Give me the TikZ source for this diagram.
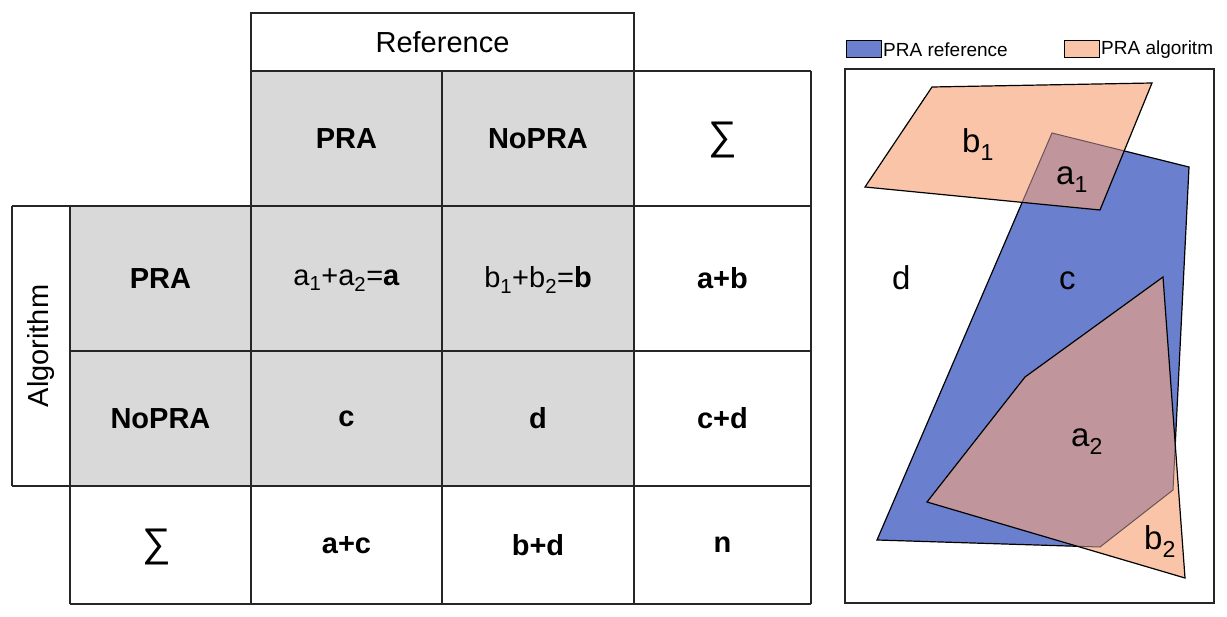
\documentclass[tikz,border=0pt]{standalone}
\usepackage{fontspec}
\setmainfont{Liberation Sans}
\usepackage{xcolor}
\usepackage{tikz}
\usetikzlibrary{calc}
\definecolor{cellgray}{HTML}{D9D9D9}
\definecolor{refblue}{HTML}{6A80CE}
\definecolor{algorange}{HTML}{FAC4A8}
\definecolor{overlap}{HTML}{C0969C}
\tikzset{grid line/.style={line width=1.6, black!85},
  cell/.style={font=\fontsize{29}{34}\selectfont},
  boldcell/.style={font=\fontsize{29}{34}\selectfont\bfseries},
  sumcell/.style={font=\fontsize{40}{44}\selectfont},
  legtext/.style={anchor=west, inner sep=1, font=\fontsize{19}{22}\selectfont},
  area/.style={anchor=base west, inner sep=0, font=\fontsize{33}{36}\selectfont}}

\begin{document}
\begin{tikzpicture} [x=1pt, y=-1pt]
\useasboundingbox (0,0) rectangle (1227,617);
% contingency table
\fill[cellgray] (251,71) rectangle (634,206);
\fill[cellgray] (70,206) rectangle (634,486);
\draw[grid line] (251,13) rectangle (634,71);
\draw[grid line] (634,71)--(811,71);
\foreach \x in {251,442,634,811} {
  \draw[grid line] (\x,71)--(\x,604);
  }
\draw[grid line] (12,206)--(811,206);
\draw[grid line] (70,351)--(811,351);
\draw[grid line] (12,486)--(811,486);
\draw[grid line] (70,604)--(811,604);
\draw[grid line] (12,206)--(12,486);
\draw[grid line] (70,206)--(70,604);
\node[cell] (ref) at (442.5,42) {Reference};
\node[cell, rotate=90] (alg) at (41,346) {Algorithm};
\node[boldcell] (refpra) at (346.5,138.5) {PRA};
\node[boldcell] (refnopra) at (538,138.5) {NoPRA};
\node[sumcell] (refsum) at (722.5,140) {∑};
\node[boldcell] (algpra) at (160.5,278.5) {PRA};
\node[boldcell] (algnopra) at (160.5,418.5) {NoPRA};
\node[sumcell] (algsum) at (157,547) {∑};
\node[cell] (cella) at (346.5,280) {a\textsubscript{1}+a\textsubscript{2}=\textbf{a}};
\node[cell] (cellb) at (538,280) {b\textsubscript{1}+b\textsubscript{2}=\textbf{b}};
\node[boldcell] (cellc) at (346.5,418.5) {c};
\node[boldcell] (celld) at (538,418.5) {d};
\node[boldcell] (sumab) at (722.5,278.5) {a+b};
\node[boldcell] (sumcd) at (722.5,418.5) {c+d};
\node[boldcell] (sumac) at (346.5,545) {a+c};
\node[boldcell] (sumbd) at (538,545) {b+d};
\node[boldcell] (sumn) at (722.5,545) {n};
% legend
\draw[fill=refblue, line width=1] (846,41) rectangle (881,58);
\node[legtext] (legref) at (882,49.5) {PRA reference};
\draw[fill=algorange, line width=1] (1064,41) rectangle (1099,58);
\node[legtext] (legalg) at (1100,49.5) {PRA algoritm};
% overlap sketch
\draw[line width=1.5, black!85] (845,69) rectangle (1214,603);
\def\bluearea{(1052,133)--(1189,167)--(1173,490)--(1100,547)--(877,540)--cycle}
\def\orangearea{(932,87)--(1152,83)--(1100,210)--(865,187)--cycle
  (1163,277)--(1185,578)--(927,502)--(1025,377)--cycle}
\fill[refblue] \bluearea;
\draw[line width=1.2] \bluearea;
\fill[algorange] \orangearea;
\begin{scope}
\clip \bluearea;
\fill[overlap] \orangearea;
\end{scope}
\begin{scope}
\clip \orangearea;
\draw[line width=1, overlap!55!black] \bluearea;
\end{scope}
\draw[line width=1.2] \orangearea;
\node[area] (bone) at (962,153) {b\textsubscript{1}};
\node[area] (aone) at (1056,185) {a\textsubscript{1}};
\node[area] (dd) at (892,290) {d};
\node[area] (cc) at (1059,290) {c};
\node[area] (atwo) at (1071,447) {a\textsubscript{2}};
\node[area] (btwo) at (1144,550) {b\textsubscript{2}};
\end{tikzpicture}
\end{document}
